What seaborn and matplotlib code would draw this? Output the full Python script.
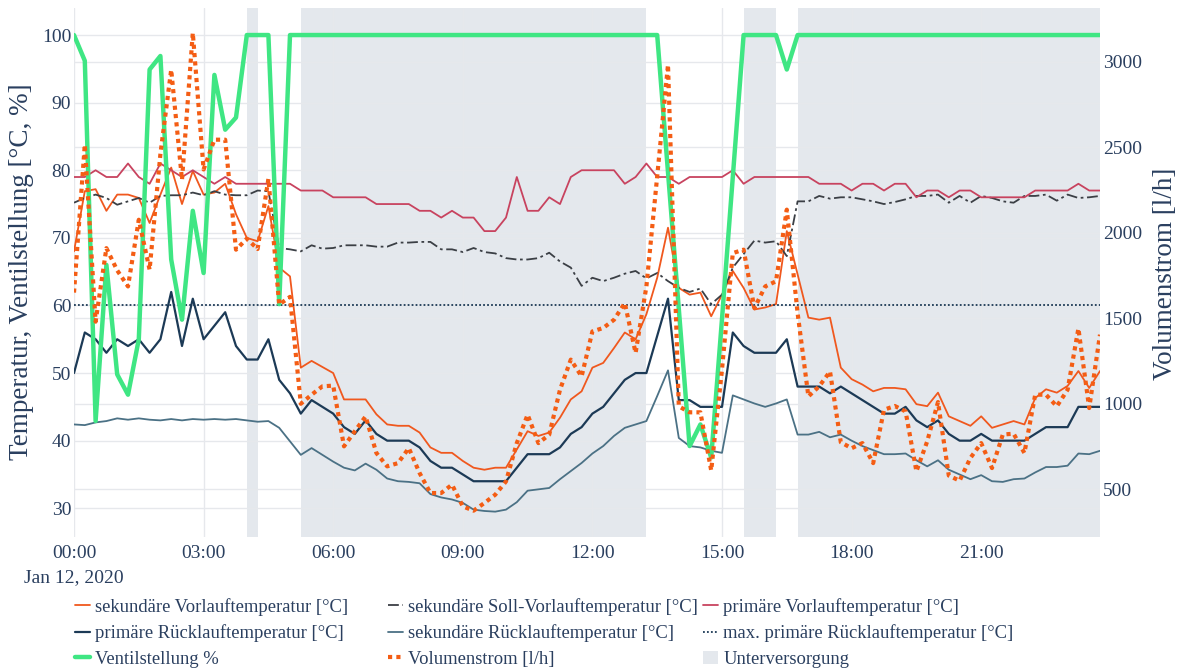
import matplotlib
matplotlib.use('Agg')
import matplotlib.pyplot as plt
import matplotlib.dates as mdates
from matplotlib.patches import Patch
import seaborn as sns
import pandas as pd

sns.set_style('white')
plt.rcParams['font.family'] = ['Liberation Serif', 'DejaVu Serif']

# 15-Minuten-Werte, 12.01.2020
zeit = pd.date_range('2020-01-12 00:00', periods=96, freq='15min')

sek_vorlauf = [68, 76.9, 77.2, 74.0, 76.4, 76.4, 75.9, 72.2, 76.4, 80.4, 75.0, 79.9, 76.4, 76.7, 78.0, 73.5, 70.0, 69.5, 74.7,
               65.6, 64.3, 50.8, 51.8, 50.9, 50.0, 46.1, 46.1, 46.1, 43.9, 42.4, 42.2, 42.2, 41.2, 39.0, 38.2, 38.2, 37.0, 36.0,
               35.7, 36.0, 36.0, 38.7, 41.4, 40.7, 41.2, 43.4, 46.1, 47.3, 50.8, 51.5, 53.7, 56.0, 55.0, 58.7, 64.1, 71.5, 62.6,
               61.6, 61.9, 58.4, 61.6, 65.1, 62.6, 59.4, 59.7, 60.2, 71.0, 64.6, 58.2, 57.9, 58.2, 50.8, 49.1, 48.3, 47.3, 47.8,
               47.8, 47.6, 45.4, 45.1, 47.1, 43.6, 42.9, 42.2, 43.6, 41.9, 42.4, 42.9, 42.4, 46.3, 47.6, 47.1, 48.1, 50.3, 47.8, 50.3]

sek_soll = [75.2, 75.9, 76.4, 75.9, 74.9, 75.4, 75.9, 75.2, 76.2, 76.3, 76.3, 76.7, 76.3, 76.9, 76.4, 76.3, 76.3, 77.0, 76.9,
            68.5, 68.3, 68.0, 68.9, 68.4, 68.5, 68.9, 68.9, 68.9, 68.7, 68.7, 69.3, 69.3, 69.4, 69.4, 68.3, 68.3, 67.9, 68.5,
            67.9, 67.7, 67.0, 66.8, 66.8, 67.0, 67.8, 66.5, 65.6, 62.9, 64.1, 63.6, 64.1, 64.7, 65.1, 64.0, 64.8, 63.6, 62.6,
            62.0, 62.5, 60.2, 61.6, 65.6, 67.6, 69.6, 69.3, 69.5, 67.3, 75.4, 75.4, 76.2, 75.8, 76.0, 76.0, 75.7, 75.4, 75.0,
            75.3, 75.7, 76.2, 76.2, 76.4, 75.2, 76.2, 75.2, 76.2, 75.9, 75.4, 75.2, 76.2, 76.2, 76.4, 75.5, 76.4, 75.9, 76.0, 76.2]

prim_vorlauf = [79, 79, 80, 79, 79, 81, 79, 78, 81, 80, 79, 80, 79, 78, 79, 78, 78, 78, 78,
                78, 78, 77, 77, 77, 76, 76, 76, 76, 75, 75, 75, 75, 74, 74, 73, 74, 73, 73,
                71, 71, 73, 79, 74, 74, 76, 75, 79, 80, 80, 80, 80, 78, 79, 81, 79, 79, 78,
                79, 79, 79, 79, 80, 78, 79, 79, 79, 79, 79, 79, 78, 78, 78, 77, 78, 78, 77,
                78, 78, 76, 77, 77, 76, 77, 77, 76, 76, 76, 76, 76, 77, 77, 77, 77, 78, 77, 77]

prim_ruecklauf = [50, 56, 55, 53, 55, 54, 55, 53, 55, 62, 54, 61, 55, 57, 59, 54, 52, 52, 55,
                  49, 47, 44, 46, 45, 44, 42, 41, 43, 41, 40, 40, 40, 39, 37, 36, 36, 35, 34,
                  34, 34, 34, 36, 38, 38, 38, 39, 41, 42, 44, 45, 47, 49, 50, 50, 55.5, 61, 46,
                  46, 45, 45, 45, 56, 54, 53, 53, 53, 55, 48, 48, 48, 47, 48, 47, 46, 45, 44,
                  44, 45, 43, 42, 43, 41, 40, 40, 41, 40, 40, 40, 40, 41, 42, 42, 42, 45, 45, 45]

sek_ruecklauf = [42.4, 42.3, 42.7, 42.9, 43.3, 43.1, 43.3, 43.1, 43.0, 43.2, 43.0, 43.2, 43.1, 43.2, 43.1, 43.2, 43.0, 42.8, 42.9,
                 41.9, 39.9, 37.9, 38.9, 37.9, 36.9, 36.0, 35.6, 36.6, 35.7, 34.4, 34.0, 33.9, 33.7, 32.1, 31.6, 31.3, 30.8, 29.8,
                 29.6, 29.5, 29.8, 30.9, 32.6, 32.8, 33.0, 34.3, 35.5, 36.7, 38.1, 39.2, 40.7, 41.9, 42.4, 42.9, 46.6, 50.4, 40.4,
                 39.2, 39.0, 38.5, 38.2, 46.7, 46.1, 45.5, 45.0, 45.5, 46.1, 40.9, 40.9, 41.3, 40.5, 40.9, 40.0, 39.2, 38.6, 38.0,
                 38.0, 38.1, 37.1, 36.2, 37.1, 35.7, 35.0, 34.3, 34.9, 34.0, 33.9, 34.3, 34.4, 35.3, 36.1, 36.1, 36.3, 38.1, 38.0, 38.5]

max_prim_ruecklauf = [60] * 96

ventil = [100, 96.2, 42.9, 66.0, 49.8, 46.8, 55.0, 94.9, 96.9, 66.8, 57.9, 74.0, 64.8, 94.1, 86.0, 87.8, 100, 100, 100,
          60.2, 100, 100, 100, 100, 100, 100, 100, 100, 100, 100, 100, 100, 100, 100, 100, 100, 100, 100,
          100, 100, 100, 100, 100, 100, 100, 100, 100, 100, 100, 100, 100, 100, 100, 100, 100, 79.7, 59.5,
          39.2, 42.4, 37.5, 58.0, 79.0, 100, 100, 100, 100, 94.9, 100, 100, 100, 100, 100, 100, 100, 100, 100,
          100, 100, 100, 100, 100, 100, 100, 100, 100, 100, 100, 100, 100, 100, 100, 100, 100, 100, 100, 100]

volumenstrom = [1650, 2515, 1480, 1910, 1780, 1686, 2076, 1784, 2460, 2953, 2310, 3168, 2370, 2544, 2544, 1901, 1965, 1905, 2315,
                1580, 1625, 1000, 1053, 1102, 1106, 751, 839, 926, 712, 634, 653, 741, 595, 478, 478, 527, 400, 375,
                420, 468, 546, 770, 936, 770, 819, 1082, 1258, 1160, 1423, 1443, 1491, 1589, 1297, 1686, 2330, 2982, 985,
                950, 950, 610, 1200, 1881, 1901, 1559, 1686, 1716, 2135, 1530, 1043, 1102, 1189, 775, 740, 770, 653, 965,
                987, 955, 605, 780, 1010, 580, 550, 683, 770, 624, 820, 825, 712, 1053, 1053, 985, 1082, 1440, 975, 1404]

unterversorgung = [('04:00', '04:15'), ('05:15', '13:15'), ('15:30', '16:15'), ('16:45', '23:45')]

df = pd.DataFrame({'Zeit': zeit, 'sek_vl': sek_vorlauf, 'sek_soll': sek_soll, 'prim_vl': prim_vorlauf,
                   'prim_rl': prim_ruecklauf, 'sek_rl': sek_ruecklauf, 'max_rl': max_prim_ruecklauf,
                   'ventil': ventil, 'vol': volumenstrom})

txt = '#2a3f5f'
grid = '#e6e8ec'

fig, ax = plt.subplots(figsize=(11.82, 6.71), dpi=100)
fig.subplots_adjust(left=74 / 1182, right=1100 / 1182, top=1 - 8 / 671, bottom=1 - 537 / 671)
ax2 = ax.twinx()

for a, b in unterversorgung:
    ax.axvspan(pd.Timestamp('2020-01-12 ' + a), pd.Timestamp('2020-01-12 ' + b),
               color='#e4e8ed', lw=0, zorder=0)

# (Spalte, Label, Farbe, Breite, Linienstil)
serien = [
    ('sek_vl', 'sekundäre Vorlauftemperatur [°C]', '#f0581e', 1.3, '-'),
    ('sek_soll', 'sekundäre Soll-Vorlauftemperatur [°C]', '#3b3f45', 1.3, (0, (6, 2, 1.5, 2))),
    ('prim_vl', 'primäre Vorlauftemperatur [°C]', '#c8435f', 1.3, '-'),
    ('prim_rl', 'primäre Rücklauftemperatur [°C]', '#1c3a56', 1.6, '-'),
    ('sek_rl', 'sekundäre Rücklauftemperatur [°C]', '#4b7185', 1.3, '-'),
    ('max_rl', 'max. primäre Rücklauftemperatur [°C]', '#1c3a56', 1.3, (0, (1, 1.2))),
    ('ventil', 'Ventilstellung %', '#3fe683', 3.2, '-'),
]
handles = {}
for col, lab, c, lw, ls in serien:
    sns.lineplot(data=df, x='Zeit', y=col, ax=ax, color=c, lw=lw, linestyle=ls, legend=False)
    handles[lab] = ax.lines[-1]

sns.lineplot(data=df, x='Zeit', y='vol', ax=ax2, color='#f45d14', lw=3.0, linestyle=(0, (1, 1)), legend=False)
handles['Volumenstrom [l/h]'] = ax2.lines[-1]
handles['Unterversorgung'] = Patch(facecolor='#e4e8ed', edgecolor='none')

links = (25.75, 104.0)
rechts = (221, 3314)
ax.set_ylim(*links)
ax2.set_ylim(*rechts)
ax.set_yticks([30, 40, 50, 60, 70, 80, 90, 100])
ax2.set_yticks([500, 1000, 1500, 2000, 2500, 3000])
ax.set_xlim(zeit[0], zeit[-1])
ax.xaxis.set_major_locator(mdates.HourLocator(byhour=range(0, 24, 3)))
ax.xaxis.set_major_formatter(mdates.DateFormatter('%H:%M'))

ax.grid(True, color=grid, lw=1)
ax.set_axisbelow(True)
# Gitterlinien der rechten Achse unter den Kurven
for v in ax2.get_yticks():
    ax.axhline(links[0] + (v - rechts[0]) / (rechts[1] - rechts[0]) * (links[1] - links[0]),
               color=grid, lw=1, zorder=0.6)

for a in (ax, ax2):
    a.set_xlabel('')
    a.set_ylabel('')
    a.tick_params(length=0, labelsize=14, colors=txt, pad=2)
    for s in a.spines.values():
        s.set_visible(False)
ax.tick_params(axis='x', pad=6)

fig.text(22 / 1182, 1 - 272 / 671, 'Temperatur, Ventilstellung [°C, %]', rotation=90,
         ha='center', va='center', fontsize=19.5, color=txt)
fig.text(1165 / 1182, 1 - 274 / 671, 'Volumenstrom [l/h]', rotation=90,
         ha='center', va='center', fontsize=19.5, color=txt)
fig.text(74 / 1182, 1 - 578 / 671, 'Jan 12, 2020', ha='center', va='center', fontsize=14, color=txt)

spalten = [
    ['sekundäre Vorlauftemperatur [°C]', 'primäre Rücklauftemperatur [°C]', 'Ventilstellung %'],
    ['sekundäre Soll-Vorlauftemperatur [°C]', 'sekundäre Rücklauftemperatur [°C]', 'Volumenstrom [l/h]'],
    ['primäre Vorlauftemperatur [°C]', 'max. primäre Rücklauftemperatur [°C]', 'Unterversorgung'],
]
for x0, labs in zip([75, 388, 703], spalten):
    fig.legend([handles[l] for l in labs], labs, loc='upper left',
               bbox_to_anchor=(x0 / 1182, 1 - 598 / 671), frameon=False, fontsize=13.4,
               labelcolor=txt, handlelength=0.8, handletextpad=0.3, borderpad=0,
               borderaxespad=0, labelspacing=0.46)

fig.savefig('out.png', dpi=100)
